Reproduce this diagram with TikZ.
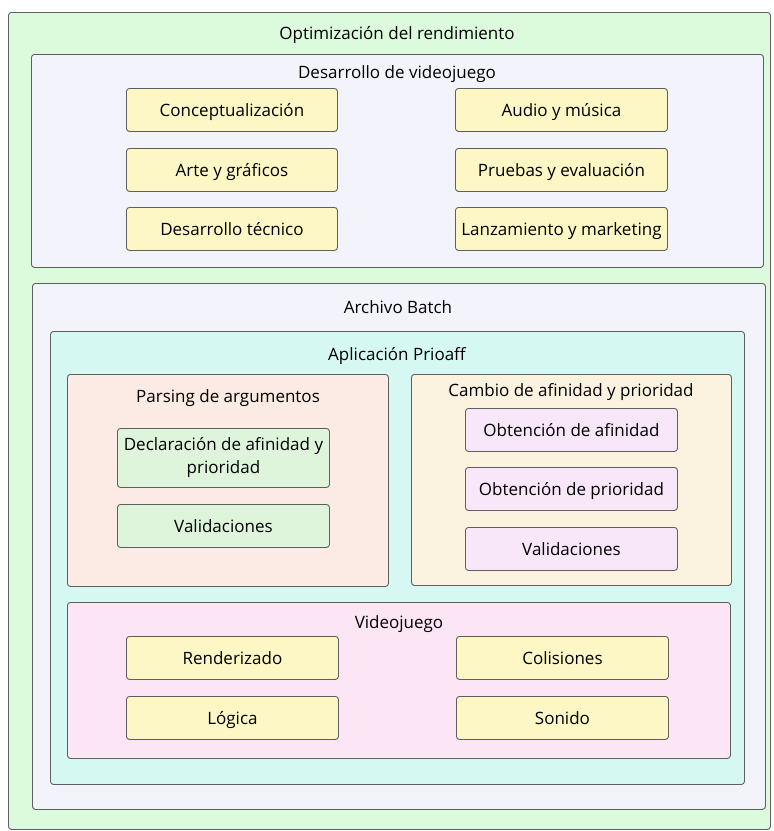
\documentclass[tikz,border=0pt]{standalone}
\usepackage{fontspec}
\setmainfont{Open Sans}
\definecolor{cgreen}{HTML}{DCFADC}
\definecolor{clav}{HTML}{F3F3FB}
\definecolor{cyel}{HTML}{FCF7C5}
\definecolor{ccyan}{HTML}{D5F8F3}
\definecolor{cpeach}{HTML}{FCEAE4}
\definecolor{clgreen}{HTML}{DEF5DC}
\definecolor{cbeige}{HTML}{FBF3DF}
\definecolor{cmauve}{HTML}{F8E7F8}
\definecolor{cpink}{HTML}{FCE6F5}
\definecolor{cline}{HTML}{5F5F5F}
\begin{document}
\begin{tikzpicture}[x=1pt,y=-1pt,
  frame/.style={draw=cline, line width=0.9pt, rounded corners=3pt, anchor=north west, inner sep=0pt},
  item/.style={draw=cline, line width=0.9pt, rounded corners=3pt, anchor=north west, inner sep=0pt, font=\fontsize{17}{23}\selectfont, align=center, text height=14.5pt, text depth=1.5pt},
  title/.style={font=\fontsize{17}{23}\selectfont, inner sep=0pt, text height=14.5pt, text depth=1.5pt}
]
\useasboundingbox (0,0) rectangle (774,831);
% outer
\node[frame, fill=cgreen, minimum width=762pt, minimum height=817pt] (opt) at (8,12) {};
\node[title] (optT) at (397,33) {Optimización del rendimiento};
% Desarrollo
\node[frame, fill=clav, minimum width=732pt, minimum height=213pt] (des) at (31,54) {};
\node[title] (desT) at (397,72) {Desarrollo de videojuego};
\node[item, fill=cyel, minimum width=211pt, minimum height=43pt] (c1) at (126,88) {Conceptualización};
\node[item, fill=cyel, minimum width=211pt, minimum height=43pt] (c2) at (126,148) {Arte y gráficos};
\node[item, fill=cyel, minimum width=211pt, minimum height=43pt] (c3) at (126,207) {Desarrollo técnico};
\node[item, fill=cyel, minimum width=212pt, minimum height=43pt] (c4) at (455,88) {Audio y música};
\node[item, fill=cyel, minimum width=212pt, minimum height=43pt] (c5) at (455,148) {Pruebas y evaluación};
\node[item, fill=cyel, minimum width=212pt, minimum height=43pt] (c6) at (455,207) {Lanzamiento y marketing};
% Archivo Batch
\node[frame, fill=clav, minimum width=733pt, minimum height=526pt] (bat) at (32,283) {};
\node[title] (batT) at (398,307) {Archivo Batch};
% Aplicacion
\node[frame, fill=ccyan, minimum width=694pt, minimum height=453pt] (app) at (50,331) {};
\node[title] (appT) at (397,354) {Aplicación Prioaff};
% Parsing
\node[frame, fill=cpeach, minimum width=321pt, minimum height=212pt] (par) at (67,374) {};
\node[title] (parT) at (228,396) {Parsing de argumentos};
\node[item, fill=clgreen, minimum width=212pt, minimum height=59pt, text height={}, text depth={}] (p1) at (117,428) {Declaración de afinidad y\\prioridad};
\node[item, fill=clgreen, minimum width=212pt, minimum height=43pt] (p2) at (117,504) {Validaciones};
% Cambio
\node[frame, fill=cbeige, minimum width=320pt, minimum height=211pt] (cam) at (411,374) {};
\node[title] (camT) at (571,390) {Cambio de afinidad y prioridad};
\node[item, fill=cmauve, minimum width=212pt, minimum height=43pt] (o1) at (465,408) {Obtención de afinidad};
\node[item, fill=cmauve, minimum width=212pt, minimum height=43pt] (o2) at (465,467) {Obtención de prioridad};
\node[item, fill=cmauve, minimum width=212pt, minimum height=43pt] (o3) at (465,527) {Validaciones};
% Videojuego
\node[frame, fill=cpink, minimum width=663pt, minimum height=156pt] (vid) at (67,602) {};
\node[title] (vidT) at (399,622) {Videojuego};
\node[item, fill=cyel, minimum width=212pt, minimum height=43pt] (v1) at (126,636) {Renderizado};
\node[item, fill=cyel, minimum width=212pt, minimum height=43pt] (v2) at (456,636) {Colisiones};
\node[item, fill=cyel, minimum width=212pt, minimum height=43pt] (v3) at (126,696) {Lógica};
\node[item, fill=cyel, minimum width=212pt, minimum height=43pt] (v4) at (456,696) {Sonido};
\end{tikzpicture}
\end{document}
